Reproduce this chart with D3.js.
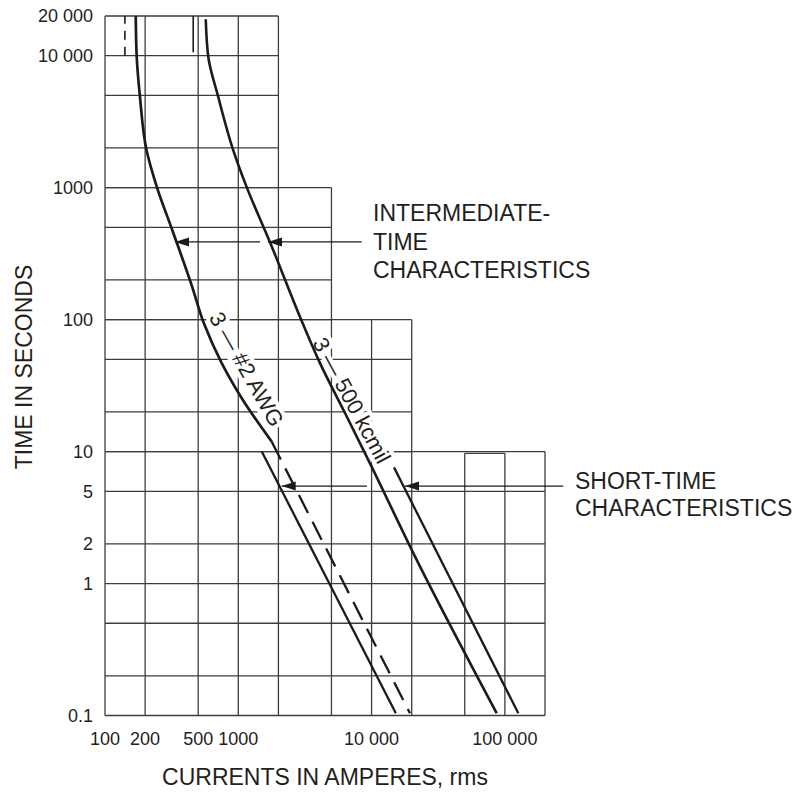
<!DOCTYPE html>
<html>
<head>
<meta charset="utf-8">
<script src="https://cdn.jsdelivr.net/npm/d3@7/dist/d3.min.js"></script>
<style>
  html, body { margin: 0; padding: 0; background: #fff; }
  svg text { font-family: "Liberation Sans", Arial, Helvetica, sans-serif; fill: #231f20; }
</style>
</head>
<body>
<svg id="chart" width="803" height="793"></svg>
<script>
// grid ticks (amperes / seconds)
const currentTicks = [100, 200, 500, 1000, 2000, 5000, 10000, 20000, 50000, 100000, 200000]
const timeTicks = [0.1, 0.2, 0.5, 1, 2, 5, 10, 20, 50, 100, 200, 500, 1000, 2000, 5000, 10000, 20000]
const currentLabels = [[100, '100'], [200, '200'], [500, '500'], [1000, '1000'], [10000, '10 000'], [100000, '100 000']]
const timeLabels = [[20000, '20 000'], [10000, '10 000'], [1000, '1000'], [100, '100'], [10, '10'], [5, '5'], [2, '2'], [1, '1'], [0.1, '0.1']]

// the grid is a staircase: each time band only runs up to a max current
const gridBlocks = [
  { tMin: 1000, tMax: 20000, iMax: 2000 },
  { tMin: 100, tMax: 1000, iMax: 5000 },
  { tMin: 10, tMax: 100, iMax: 20000 },
  { tMin: 0.1, tMax: 10, iMax: 200000 }
]
const insetBox = { from: 50000, to: 100000, top: 9.7 }

// curves, [current A, time s]
const awg2Intermediate = [[170, 20000], [173, 9740], [183, 4850], [205, 1920], [245, 1010], [322, 468],
  [447, 182], [555, 92.5], [751, 46.8], [1085, 24.5], [1781, 11.9]]
const awg2Continued = [[1781, 11.9], [19400, 0.104]]
const awg2ShortTime = [[1500, 10], [15200, 0.104]]
const kcmil500 = [[570, 18900], [596, 9740], [708, 4850], [917, 1920], [1156, 1010], [1729, 386],
  [3058, 92.5], [4102, 46.8], [6318, 19.6], [9728, 8.14], [21800, 1.51], [86800, 0.104]]
const kcmil500ShortTime = [[14730, 7.59], [126100, 0.104]]
const topMarks = [
  { current: 141, from: 10000, to: 20000, dashed: true },
  { current: 459, from: 10600, to: 20000, dashed: false }
]

// callout arrows: time, line pieces [from, to] in amperes, arrow tips in amperes
const arrows = [
  { time: 388, pieces: [[335, 1455], [1670, 8430]], tips: [335, 1670] },
  { time: 5.48, pieces: [[2117, 9237], [17810, 274000]], tips: [2117, 17810] }
]
const curveLabels = [
  { text: '3 — #2 AWG', current: 1160, time: 42.2, angle: 60.5 },
  { text: '3 — 500 kcmil', current: 7129, time: 24.5, angle: 61.6 }
]
const intermediateText = ['INTERMEDIATE-', 'TIME', 'CHARACTERISTICS']
const shortTimeText = ['SHORT-TIME', 'CHARACTERISTICS']

const svg = d3.select('#chart')
const x = d3.scaleLog().domain([100, 200000]).range([105, 545])
const y = d3.scaleLog().domain([0.1, 20000]).range([715.5, 16])
const gridColor = '#3d3d3d'
const ink = '#1c1a1b'

// staircase grid
const gridGroup = svg.append('g').attr('stroke', gridColor).attr('stroke-width', 1.3).attr('fill', 'none')
gridBlocks.forEach(b => {
  timeTicks.filter(t => t >= b.tMin && t <= b.tMax).forEach(t => {
    gridGroup.append('line')
      .attr('x1', x(100)).attr('x2', x(b.iMax))
      .attr('y1', y(t)).attr('y2', y(t))
  })
  currentTicks.filter(c => c <= b.iMax).forEach(c => {
    const inInset = b.tMax === 10 && (c === insetBox.from || c === insetBox.to)
    gridGroup.append('line')
      .attr('x1', x(c)).attr('x2', x(c))
      .attr('y1', y(b.tMin)).attr('y2', y(inInset ? insetBox.top : b.tMax))
  })
})
gridGroup.append('line')
  .attr('x1', x(insetBox.from)).attr('x2', x(insetBox.to))
  .attr('y1', y(insetBox.top)).attr('y2', y(insetBox.top))

// tick labels
svg.append('g').selectAll('text')
  .data(timeLabels)
  .join('text')
  .attr('x', 93)
  .attr('y', d => y(d[0]))
  .attr('dy', '0.36em')
  .attr('text-anchor', 'end')
  .attr('font-size', 18)
  .text(d => d[1])

svg.append('g').selectAll('text')
  .data(currentLabels)
  .join('text')
  .attr('x', d => x(d[0]))
  .attr('y', 745)
  .attr('text-anchor', 'middle')
  .attr('font-size', 18)
  .text(d => d[1])

// axis titles
svg.append('text')
  .attr('transform', 'translate(32,367) rotate(-90)')
  .attr('text-anchor', 'middle')
  .attr('font-size', 23)
  .text('TIME IN SECONDS')

svg.append('text')
  .attr('x', 325)
  .attr('y', 785)
  .attr('text-anchor', 'middle')
  .attr('font-size', 23)
  .text('CURRENTS IN AMPERES, rms')

// curve labels, with a white halo that breaks the grid like the print
svg.append('g').selectAll('text')
  .data(curveLabels)
  .join('text')
  .attr('transform', d => `translate(${x(d.current)},${y(d.time)}) rotate(${d.angle})`)
  .attr('text-anchor', 'middle')
  .attr('dy', '0.36em')
  .attr('font-size', 22)
  .attr('stroke', '#fff')
  .attr('stroke-width', 8)
  .attr('paint-order', 'stroke')
  .text(d => d.text)

// curves
const smooth = d3.line().x(d => x(d[0])).y(d => y(d[1])).curve(d3.curveMonotoneY)
const straight = d3.line().x(d => x(d[0])).y(d => y(d[1]))
const curveGroup = svg.append('g').attr('fill', 'none').attr('stroke', ink)

curveGroup.append('path').attr('d', smooth(awg2Intermediate)).attr('stroke-width', 2.7)
curveGroup.append('path').attr('d', smooth(kcmil500)).attr('stroke-width', 2.6)
curveGroup.append('path').attr('d', straight(awg2Continued)).attr('stroke-width', 2.3).attr('stroke-dasharray', '20,10')
curveGroup.append('path').attr('d', straight(awg2ShortTime)).attr('stroke-width', 2.3)
curveGroup.append('path').attr('d', straight(kcmil500ShortTime)).attr('stroke-width', 2.3)

curveGroup.selectAll('line.top')
  .data(topMarks)
  .join('line')
  .attr('class', 'top')
  .attr('x1', d => x(d.current)).attr('x2', d => x(d.current))
  .attr('y1', d => y(d.from)).attr('y2', d => y(d.to))
  .attr('stroke-width', 1.6)
  .attr('stroke-dasharray', d => d.dashed ? '9,7' : null)

// callout arrows
const arrowGroup = svg.append('g').attr('stroke', ink).attr('fill', ink)
arrows.forEach(a => {
  const yy = y(a.time)
  a.pieces.forEach(p => {
    arrowGroup.append('line')
      .attr('x1', x(p[0])).attr('x2', x(p[1]))
      .attr('y1', yy).attr('y2', yy)
      .attr('stroke-width', 1.3)
  })
  a.tips.forEach(tip => {
    const tx = x(tip)
    arrowGroup.append('path')
      .attr('stroke', 'none')
      .attr('d', `M${tx},${yy}L${tx + 14},${yy - 4.5}L${tx + 14},${yy + 4.5}Z`)
  })
})

// callout texts
svg.append('g').selectAll('text')
  .data(intermediateText)
  .join('text')
  .attr('x', 373)
  .attr('y', (d, i) => 221 + i * 28.5)
  .attr('font-size', 23)
  .text(d => d)

svg.append('g').selectAll('text')
  .data(shortTimeText)
  .join('text')
  .attr('x', 575)
  .attr('y', (d, i) => 488.5 + i * 27)
  .attr('font-size', 23)
  .text(d => d)
</script>
</body>
</html>
